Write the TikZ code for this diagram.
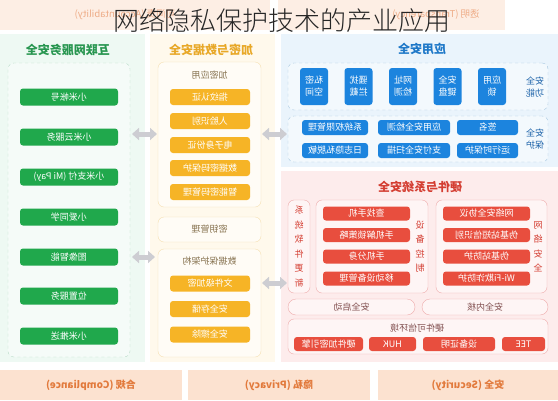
\documentclass[tikz,border=0pt]{standalone}
\usepackage{fontspec}
\setmainfont{Noto Sans CJK SC}
\newfontfamily\titlefont{Noto Sans CJK SC Light}
\usepackage{graphicx}
\usetikzlibrary{arrows.meta}
\definecolor{gGreen}{RGB}{32,168,76}
\definecolor{gTitle}{RGB}{40,150,80}
\definecolor{gBg}{RGB}{238,249,243}
\definecolor{gLine}{RGB}{185,220,200}
\definecolor{yGold}{RGB}{246,180,38}
\definecolor{yTitle}{RGB}{232,168,40}
\definecolor{yBg}{RGB}{255,249,236}
\definecolor{yLine}{RGB}{245,224,178}
\definecolor{yText}{RGB}{135,115,80}
\definecolor{bBlue}{RGB}{28,132,222}
\definecolor{bTitle}{RGB}{30,120,200}
\definecolor{bBg}{RGB}{234,244,252}
\definecolor{bLine}{RGB}{165,198,224}
\definecolor{bText}{RGB}{30,100,170}
\definecolor{rRed}{RGB}{232,78,62}
\definecolor{rTitle}{RGB}{212,62,50}
\definecolor{rBg}{RGB}{253,236,236}
\definecolor{rLine}{RGB}{238,172,172}
\definecolor{rText}{RGB}{130,80,80}
\definecolor{pBg}{RGB}{252,226,208}
\definecolor{pText}{RGB}{226,122,60}
\definecolor{tBg}{RGB}{253,238,228}
\definecolor{tText}{RGB}{238,172,135}
\definecolor{arrowgray}{RGB}{205,205,210}
\newcommand{\mr}[1]{\reflectbox{#1}}
\begin{document}
\begin{tikzpicture}[x=1pt,y=-1pt,
  every node/.style={inner sep=0pt, outer sep=0pt},
  itemfont/.style={font=\fontsize{9}{12}\selectfont},
  gitem/.style={itemfont, fill=gGreen, text=white, rounded corners=3pt, minimum width=98pt, minimum height=17pt},
  yitem/.style={itemfont, fill=yGold, text=white, rounded corners=3pt, minimum width=80pt, minimum height=16pt},
  bsq/.style={itemfont, fill=bBlue, text=white, rounded corners=3pt, minimum width=28pt, minimum height=37pt, align=center},
  brow/.style={itemfont, fill=bBlue, text=white, rounded corners=3pt, minimum height=15pt},
  ritem/.style={itemfont, fill=rRed, text=white, rounded corners=3pt, minimum width=87pt, minimum height=14pt},
  rsmall/.style={itemfont, fill=rRed, text=white, rounded corners=3pt, minimum height=14pt},
  coltitle/.style={font=\bfseries\fontsize{12}{14}\selectfont},
  ggroup/.style={draw=gLine, dashed, fill=white!40!gBg, rounded corners=6pt},
  ygroup/.style={draw=yLine, fill=white!55!yBg, rounded corners=6pt},
  bgroup/.style={draw=bLine, dashed, fill=white!45!bBg, rounded corners=6pt},
  rgroup/.style={draw=rLine, fill=white!50!rBg, rounded corners=6pt},
  pill/.style={draw=rLine, fill=white!50!rBg, rounded corners=8pt, text=rText, font=\fontsize{9}{12}\selectfont},
  vlabel/.style={font=\fontsize{9}{14.5}\selectfont, align=center},
  bottombox/.style={fill=pBg, text=pText, font=\bfseries\fontsize{10}{12}\selectfont},
  dbl/.style={draw=arrowgray, line width=5pt, {Triangle[width=12pt,length=7pt]}-{Triangle[width=12pt,length=7pt]}}
]
\useasboundingbox (0,0) rectangle (558,400);
% backgrounds
\fill[tBg] (0,0) rectangle (270,30);
\fill[tBg] (278,0) rectangle (505,30);
\fill[gBg] (0,34) rectangle (145,362);
\fill[yBg] (150,34) rectangle (275,362);
\fill[bBg] (281,34) rectangle (558,167);
\fill[rBg] (281,171) rectangle (558,362);
% top banner texts and title
\node[text=tText, font=\fontsize{9.5}{12}\selectfont] (tl) at (125,15) {\mr{可问责 (Accountability)}};
\node[text=tText, font=\fontsize{9.5}{12}\selectfont] (tr) at (436,15) {\mr{透明 (Transparency)}};
\node[text=black!85, font=\titlefont\fontsize{26}{28}\selectfont] (title) at (282,21) {网络隐私保护技术的产业应用};
% column titles
\node[coltitle, text=gTitle] (t1) at (68,50) {\mr{互联网服务安全}};
\node[coltitle, text=yTitle] (t2) at (211,50) {\mr{加密与数据安全}};
\node[coltitle, text=bTitle] (t3) at (422,49) {\mr{应用安全}};
\node[coltitle, text=rTitle] (t4) at (420,187) {\mr{硬件与系统安全}};
% left column
\node[ggroup, minimum width=122pt, minimum height=294pt] (gbox) at (69,210) {};
\node[gitem] (g1) at (69,97) {\mr{小米帐号}};
\node[gitem] (g2) at (69,137) {\mr{小米云服务}};
\node[gitem] (g3) at (69,177) {\mr{小米支付 (Mi Pay)}};
\node[gitem] (g4) at (69,217) {\mr{小爱同学}};
\node[gitem] (g5) at (69,257) {\mr{图像智能}};
\node[gitem] (g6) at (69,296) {\mr{位置服务}};
\node[gitem] (g7) at (69,336) {\mr{小米推送}};
% middle column
\node[ygroup, minimum width=103pt, minimum height=145pt] (enc) at (209.5,134.5) {};
\node[text=yText, font=\fontsize{9}{12}\selectfont] (encl) at (209.5,75) {\mr{加密应用}};
\node[yitem] (y1) at (210,97) {\mr{指纹认证}};
\node[yitem] (y2) at (210,121) {\mr{人脸识别}};
\node[yitem] (y3) at (210,145) {\mr{电子身份证}};
\node[yitem] (y4) at (210,168) {\mr{数据密码保护}};
\node[yitem] (y5) at (210,192) {\mr{智能密码管理}};
\node[ygroup, minimum width=103pt, minimum height=25pt, text=yText, font=\fontsize{9}{12}\selectfont] (key) at (209.5,229.5) {\mr{密钥管理}};
\node[ygroup, minimum width=103pt, minimum height=108pt] (dp) at (209.5,303) {};
\node[text=yText, font=\fontsize{9}{12}\selectfont] (dpl) at (209.5,261) {\mr{数据保护架构}};
\node[yitem] (y6) at (210,283.5) {\mr{文件级加密}};
\node[yitem] (y7) at (210,309) {\mr{安全存储}};
\node[yitem] (y8) at (210,334.5) {\mr{安全擦除}};
% right top: app security
\node[bgroup, minimum width=260pt, minimum height=47pt] (func) at (418,86.5) {};
\node[bsq] (b1) at (314,86.5) {\mr{私密}\\\mr{空间}};
\node[bsq] (b2) at (358.5,86.5) {\mr{骚扰}\\\mr{拦截}};
\node[bsq] (b3) at (403,86.5) {\mr{网址}\\\mr{检测}};
\node[bsq] (b4) at (447.5,86.5) {\mr{安全}\\\mr{键盘}};
\node[bsq] (b5) at (492,86.5) {\mr{应用}\\\mr{锁}};
\node[vlabel, text=bText, font=\fontsize{9}{12}\selectfont] (funcl) at (535,87) {\mr{安全}\\\mr{功能}};
\node[bgroup, minimum width=260pt, minimum height=46pt] (prot) at (418,139) {};
\node[brow, minimum width=66pt] (p1) at (335,127.5) {\mr{系统权限管理}};
\node[brow, minimum width=72pt] (p2) at (414,127.5) {\mr{应用安全检测}};
\node[brow, minimum width=61pt] (p3) at (487.5,127.5) {\mr{签名}};
\node[brow, minimum width=66pt] (p4) at (335,150.5) {\mr{日志隐私脱敏}};
\node[brow, minimum width=72pt] (p5) at (414,150.5) {\mr{支付安全扫描}};
\node[brow, minimum width=61pt] (p6) at (487.5,150.5) {\mr{运行时保护}};
\node[vlabel, text=bText, font=\fontsize{9}{12}\selectfont] (protl) at (535,139) {\mr{安全}\\\mr{保护}};
% right bottom: hardware and system security
\node[rgroup, minimum width=22pt, minimum height=93pt, vlabel, text=rTitle] (upd) at (299,246.5) {\mr{系}\\\mr{统}\\\mr{软}\\\mr{件}\\\mr{更}\\\mr{新}};
\node[rgroup, minimum width=112pt, minimum height=93pt] (dev) at (372,246.5) {};
\node[ritem] (d1) at (366.5,213.5) {\mr{查找手机}};
\node[ritem] (d2) at (366.5,235) {\mr{手机解锁策略}};
\node[ritem] (d3) at (366.5,256.5) {\mr{手机分身}};
\node[ritem] (d4) at (366.5,278.5) {\mr{移动设备管理}};
\node[vlabel, text=rTitle] (devl) at (420,246.5) {\mr{设}\\\mr{备}\\\mr{控}\\\mr{制}};
\node[rgroup, minimum width=111pt, minimum height=93pt] (net) at (491.5,246.5) {};
\node[ritem] (n1) at (486.5,213.5) {\mr{网络安全协议}};
\node[ritem] (n2) at (486.5,235) {\mr{伪基站短信识别}};
\node[ritem] (n3) at (486.5,256.5) {\mr{伪基站防护}};
\node[ritem] (n4) at (486.5,278.5) {\mr{Wi-Fi欺诈防护}};
\node[vlabel, text=rTitle] (netl) at (538,246.5) {\mr{网}\\\mr{络}\\\mr{安}\\\mr{全}};
\node[pill, minimum width=127pt, minimum height=16pt] (boot) at (351.5,307) {\mr{安全启动}};
\node[pill, minimum width=126pt, minimum height=16pt] (kern) at (485,307) {\mr{安全内核}};
\node[rgroup, minimum width=260pt, minimum height=35pt] (hw) at (418,336.5) {};
\node[text=rText, font=\fontsize{9}{12}\selectfont] (hwl) at (417,328) {\mr{硬件可信环境}};
\node[rsmall, minimum width=69pt] (h1) at (328.5,344) {\mr{硬件加密引擎}};
\node[rsmall, minimum width=47pt] (h2) at (392.5,344) {\mr{HUK}};
\node[rsmall, minimum width=72pt] (h3) at (459,344) {\mr{设备证明}};
\node[rsmall, minimum width=43pt] (h4) at (523.5,344) {\mr{TEE}};
% bottom bar
\node[bottombox, minimum width=182pt, minimum height=30pt] (c1) at (91,385) {\mr{合规 (Compliance)}};
\node[bottombox, minimum width=182pt, minimum height=30pt] (c2) at (279,385) {\mr{隐私 (Privacy)}};
\node[bottombox, minimum width=180pt, minimum height=30pt] (c3) at (468,385) {\mr{安全 (Security)}};
% connectors
\coordinate (ya) at (0,134);
\coordinate (yb) at (0,257);
\coordinate (yc) at (0,283);
\draw[dbl, shorten <=2pt, shorten >=1pt] (gbox.east |- ya) -- (enc.west |- ya);
\draw[dbl, shorten <=2pt, shorten >=3pt] (gbox.east |- yb) -- (dp.west |- yb);
\draw[dbl, shorten <=1pt, shorten >=1pt] (enc.east |- ya) -- (prot.west |- ya);
\draw[dbl, shorten <=1pt, shorten >=1pt] (dp.east |- yc) -- (upd.west |- yc);
\end{tikzpicture}
\end{document}
